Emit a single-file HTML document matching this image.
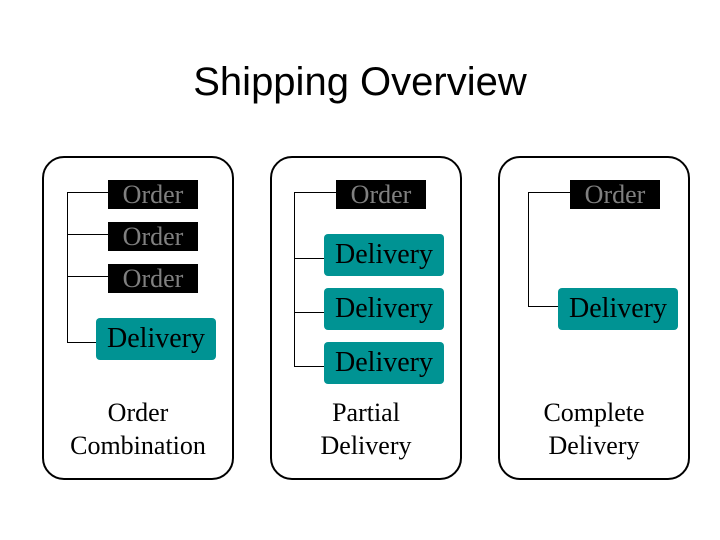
<!DOCTYPE html>
<html><head><style>
body{margin:0;width:720px;height:540px;background:#fff;position:relative;overflow:hidden;font-family:"Liberation Serif",serif}
.a{position:absolute}
.t{position:absolute;left:0;width:720px;top:58px;text-align:center;font-family:"Liberation Sans",sans-serif;font-size:40px;color:#000;line-height:48px}
.p{position:absolute;border:2px solid #000;border-radius:22px;box-sizing:border-box;width:192px;height:324px;top:156px}
.o{position:absolute;background:#000;color:#808080;font-size:26px;text-align:center;line-height:29px;height:29px;width:90px}
.d{position:absolute;background:#009393;color:#000;font-size:28px;text-align:center;border-radius:4px;width:120px;height:42px;line-height:42px}
.h{position:absolute;height:1px;background:#000}
.v{position:absolute;width:1px;background:#000}
.l{position:absolute;font-size:26px;text-align:center;line-height:33px;width:192px;top:396px}
</style></head><body>
<div class="t">Shipping Overview</div>
<div class="p" style="left:42px"></div>
<div class="p" style="left:270px"></div>
<div class="p" style="left:498px"></div>

<div class="v" style="left:67px;top:192px;height:150px"></div>
<div class="h" style="left:67px;top:192px;width:41px"></div>
<div class="h" style="left:67px;top:234px;width:41px"></div>
<div class="h" style="left:67px;top:276px;width:41px"></div>
<div class="h" style="left:67px;top:342px;width:29px"></div>
<div class="o" style="left:108px;top:180px">Order</div>
<div class="o" style="left:108px;top:222px">Order</div>
<div class="o" style="left:108px;top:264px">Order</div>
<div class="d" style="left:96px;top:318px">Delivery</div>
<div class="l" style="left:42px">Order<br>Combination</div>

<div class="v" style="left:294px;top:192px;height:174px"></div>
<div class="h" style="left:294px;top:192px;width:42px"></div>
<div class="h" style="left:294px;top:258px;width:30px"></div>
<div class="h" style="left:294px;top:312px;width:30px"></div>
<div class="h" style="left:294px;top:366px;width:30px"></div>
<div class="o" style="left:336px;top:180px">Order</div>
<div class="d" style="left:324px;top:234px">Delivery</div>
<div class="d" style="left:324px;top:288px">Delivery</div>
<div class="d" style="left:324px;top:342px">Delivery</div>
<div class="l" style="left:270px">Partial<br>Delivery</div>

<div class="v" style="left:528px;top:192px;height:114px"></div>
<div class="h" style="left:528px;top:192px;width:42px"></div>
<div class="h" style="left:528px;top:306px;width:30px"></div>
<div class="o" style="left:570px;top:180px">Order</div>
<div class="d" style="left:558px;top:288px">Delivery</div>
<div class="l" style="left:498px">Complete<br>Delivery</div>
</body></html>
